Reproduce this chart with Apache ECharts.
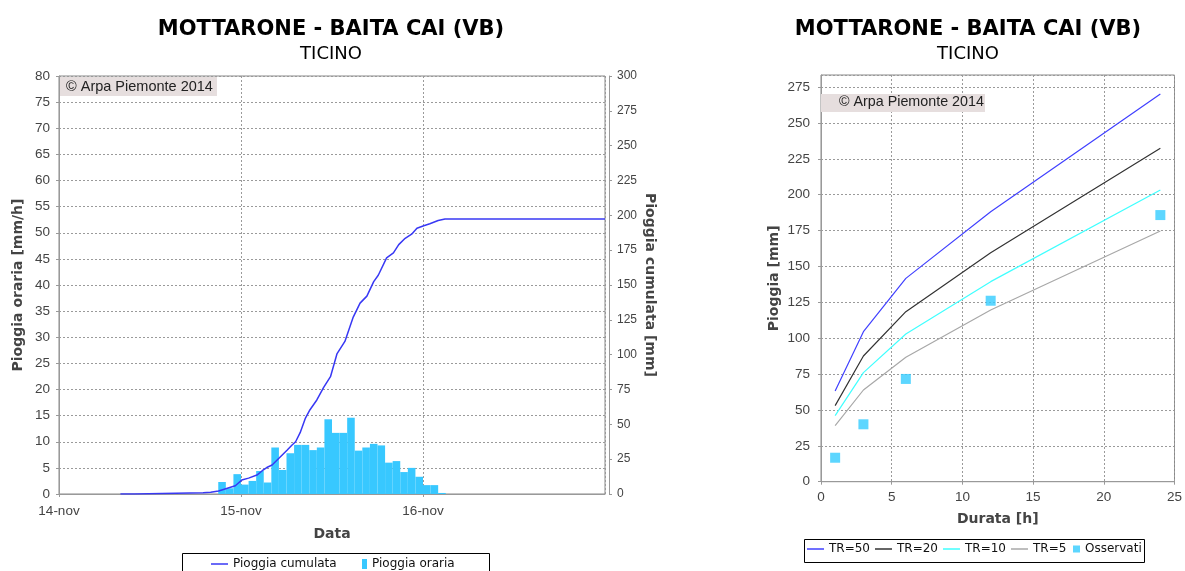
<!DOCTYPE html>
<html><head><meta charset="utf-8">
<script src="https://cdn.jsdelivr.net/npm/echarts@6/dist/echarts.min.js"></script>
<style>html,body{margin:0;padding:0;background:#fff}#c{width:1185px;height:571px}</style>
</head><body><div id="c"></div>
<script>
// ---- data ----
const stationTitle = 'MOTTARONE - BAITA CAI (VB)';
const basinName = 'TICINO';
const watermark = '\u00A9 Arpa Piemonte 2014';
const dayLabels = ['14-nov', '15-nov', '16-nov', '17-nov'];
// hourly rain: start hour (hours since 14-nov 00:00) and mm/h
const barStartHours = [21, 22, 23, 24, 25, 26, 27, 28, 29, 30, 31, 32, 33, 34, 35, 36, 37, 38, 39, 40, 41, 42, 43, 44, 45, 46, 47, 48, 49, 50];
const hourlyRain    = [2.3, 1.1, 3.8, 1.8, 2.5, 4.4, 2.2, 8.9, 4.6, 7.8, 9.4, 9.4, 8.4, 8.9, 14.3, 11.7, 11.7, 14.6, 8.3, 8.9, 9.6, 9.3, 6.0, 6.3, 4.2, 5.0, 3.3, 1.7, 1.7, 0.2];
// cumulative rain: hours since 14-nov 00:00 and mm
const cumHours = [8.1, 10.0, 10.1, 19.0, 20.0, 21.05, 22.2, 23.25, 23.7, 24.1, 25.0, 26.1, 26.8, 27.4, 28.1, 29.0, 30.1, 30.7, 31.2, 31.8, 32.5, 33.1, 34.0, 34.9, 35.8, 36.65, 37.7, 38.8, 39.7, 40.6, 41.5, 42.1, 43.2, 44.1, 44.8, 45.65, 46.5, 47.2, 48.1, 48.9, 50.0, 50.9, 72];
const cumRain  = [0, 0, 0.9, 0.9, 1.2, 2.1, 4.1, 5.9, 8.1, 10, 11.4, 13.6, 16.7, 19, 20.8, 25.6, 31.6, 35, 37.5, 44.0, 54.5, 60.5, 67.5, 76.5, 84.2, 100.5, 109.5, 127, 137, 142, 152.4, 157, 169.5, 173, 179, 183.5, 186.5, 190.7, 192.5, 194, 196.3, 197.3, 197.3];
// depth-duration curves
const durations = [1, 3, 6, 12, 24];
const tr50 = [63.2, 104.5, 141.7, 188.1, 270.1];
const tr20 = [53.0, 87.6, 118.5, 159.6, 232.3];
const tr10 = [46.0, 76.0, 102.9, 139.4, 203.3];
const tr5  = [39.0, 63.9, 86.7, 119.6, 174.7];
const observed = [16.7, 40.0, 71.6, 126.1, 185.8];

// ---- chart ----
const NUM = 'Liberation Sans';
const TXT = 'DejaVu Sans';
const gridLine = { show: true, lineStyle: { color: '#9a9a9a', type: [2, 2], width: 1 } };
const axLine = { show: true, lineStyle: { color: '#999', width: 1 } };
const axTick = { show: true, length: 3, lineStyle: { color: '#999' } };
const lbl = (m) => ({ color: '#444', fontFamily: NUM, fontSize: 13.5, margin: m });
const nameStyle = { color: '#444', fontFamily: TXT, fontWeight: 'bold', fontSize: 14 };
const lineIcon = 'path://M0,0H17V1.5H0Z';
const legText = { fontFamily: TXT, fontSize: 12, color: '#111' };

const barData = barStartHours.map((h, i) => [h + 0.5, hourlyRain[i]]);
const cumData = cumHours.map((h, i) => [h, cumRain[i]]);
const pair = (arr) => durations.map((d, i) => [d, arr[i]]);

const chart = echarts.init(document.getElementById('c'), null, { renderer: 'canvas' });
chart.setOption({
  animation: false,
  backgroundColor: '#fff',
  title: [
    { text: stationTitle, subtext: basinName, left: 331, top: 19, textAlign: 'center', padding: 0, itemGap: 5,
      textStyle: { fontFamily: TXT, fontWeight: 'bold', fontSize: 21, color: '#000' },
      subtextStyle: { fontFamily: TXT, fontSize: 18, color: '#000' } },
    { text: stationTitle, subtext: basinName, left: 968, top: 19, textAlign: 'center', padding: 0, itemGap: 5,
      textStyle: { fontFamily: TXT, fontWeight: 'bold', fontSize: 21, color: '#000' },
      subtextStyle: { fontFamily: TXT, fontSize: 18, color: '#000' } }
  ],
  legend: [
    { data: [{ name: 'Pioggia cumulata', icon: lineIcon }], left: 211, top: 558, padding: 0, itemWidth: 17, itemHeight: 10,
      textStyle: legText },
    { data: [{ name: 'Pioggia oraria', icon: 'rect' }], left: 362, top: 558, padding: 0, itemWidth: 5, itemHeight: 10,
      textStyle: legText },
    { data: ['TR=50', 'TR=20', 'TR=10', 'TR=5'].map((n) => ({ name: n, icon: lineIcon })), left: 807, top: 543, padding: 0,
      itemWidth: 17, itemHeight: 10, itemGap: 5, textStyle: legText },
    { data: [{ name: 'Osservati', icon: 'rect' }], left: 1073, top: 543, padding: 0, itemWidth: 7, itemHeight: 7,
      textStyle: legText }
  ],
  grid: [
    { left: 59, top: 76, width: 546, height: 418, show: true, borderColor: '#888', borderWidth: 1, backgroundColor: '#fff' },
    { left: 821, top: 75, width: 357, height: 406.7, show: true, borderColor: '#888', borderWidth: 1, backgroundColor: '#fff' }
  ],
  xAxis: [
    { type: 'value', gridIndex: 0, min: 0, max: 72, interval: 24, offset: 4,
      name: 'Data', nameLocation: 'middle', nameGap: 29, nameTextStyle: nameStyle,
      axisLine: axLine, axisTick: axTick, splitLine: gridLine,
      axisLabel: Object.assign(lbl(6), { showMaxLabel: false, formatter: (v) => dayLabels[Math.round(v / 24)] }) },
    { type: 'value', gridIndex: 1, min: 0, max: 25, interval: 5, offset: 4,
      name: 'Durata [h]', nameLocation: 'middle', nameGap: 27, nameTextStyle: nameStyle,
      axisLine: axLine, axisTick: axTick, splitLine: gridLine, axisLabel: lbl(5) }
  ],
  yAxis: [
    { type: 'value', gridIndex: 0, min: 0, max: 80, interval: 5, offset: 2, position: 'left',
      name: 'Pioggia oraria [mm/h]', nameLocation: 'middle', nameGap: 32, nameTextStyle: nameStyle,
      axisLine: axLine, axisTick: axTick, splitLine: gridLine, axisLabel: lbl(7) },
    { type: 'value', gridIndex: 0, min: 0, max: 300, interval: 25, offset: 4, position: 'right',
      name: 'Pioggia cumulata [mm]', nameLocation: 'middle', nameGap: 34, nameRotate: -90, nameTextStyle: nameStyle,
      axisLine: axLine, axisTick: axTick, splitLine: { show: false },
      axisLabel: Object.assign(lbl(8), { fontSize: 12 }) },
    { type: 'value', gridIndex: 1, min: 0, max: 283.4, interval: 25, offset: 4,
      name: 'Pioggia [mm]', nameLocation: 'middle', nameGap: 36, nameTextStyle: nameStyle,
      axisLine: axLine, axisTick: axTick, splitLine: gridLine,
      axisLabel: Object.assign(lbl(7), { showMaxLabel: false }) }
  ],
  series: [
    { name: 'Pioggia oraria', type: 'bar', xAxisIndex: 0, yAxisIndex: 0, data: barData,
      barWidth: '100%', itemStyle: { color: '#38C8FF' }, z: 2 },
    { name: 'Pioggia cumulata', type: 'line', xAxisIndex: 0, yAxisIndex: 1, data: cumData,
      symbol: 'none', lineStyle: { color: '#3838F4', width: 1.5 }, itemStyle: { color: '#3838F4' }, z: 3 },
    { name: 'TR=50', type: 'line', xAxisIndex: 1, yAxisIndex: 2, data: pair(tr50), symbol: 'none',
      lineStyle: { color: '#4040FF', width: 1.2 }, itemStyle: { color: '#4040FF' } },
    { name: 'TR=20', type: 'line', xAxisIndex: 1, yAxisIndex: 2, data: pair(tr20), symbol: 'none',
      lineStyle: { color: '#333333', width: 1.2 }, itemStyle: { color: '#333333' } },
    { name: 'TR=10', type: 'line', xAxisIndex: 1, yAxisIndex: 2, data: pair(tr10), symbol: 'none',
      lineStyle: { color: '#40FFFF', width: 1.2 }, itemStyle: { color: '#40FFFF' } },
    { name: 'TR=5', type: 'line', xAxisIndex: 1, yAxisIndex: 2, data: pair(tr5), symbol: 'none',
      lineStyle: { color: '#A8A8A8', width: 1.2 }, itemStyle: { color: '#A8A8A8' } },
    { name: 'Osservati', type: 'scatter', xAxisIndex: 1, yAxisIndex: 2, data: pair(observed),
      symbol: 'rect', symbolSize: 10, itemStyle: { color: '#33CCFF' }, z: 4 }
  ],
  graphic: [
    { type: 'rect', left: 60, top: 77, shape: { width: 157, height: 19 }, style: { fill: '#E6DEDE' }, z: 10 },
    { type: 'text', left: 66, top: 79, style: { text: watermark, font: '14.5px "Liberation Sans"', fill: '#222' }, z: 11 },
    { type: 'rect', left: 821, top: 94, shape: { width: 164, height: 18 }, style: { fill: '#E6DEDE' }, z: 10 },
    { type: 'text', left: 839, top: 95, style: { text: watermark, font: '14.3px "Liberation Sans"', fill: '#222' }, z: 11 },
    { type: 'rect', left: 180, top: 551, shape: { x: 0.5, y: 0.5, width: 307, height: 30 }, style: { fill: 'none', stroke: '#000', lineWidth: 1 }, z: 10 },
    { type: 'rect', left: 802, top: 537, shape: { x: 0.5, y: 0.5, width: 340, height: 23 }, style: { fill: 'none', stroke: '#000', lineWidth: 1 }, z: 10 }
  ]
});
</script>
</body></html>
